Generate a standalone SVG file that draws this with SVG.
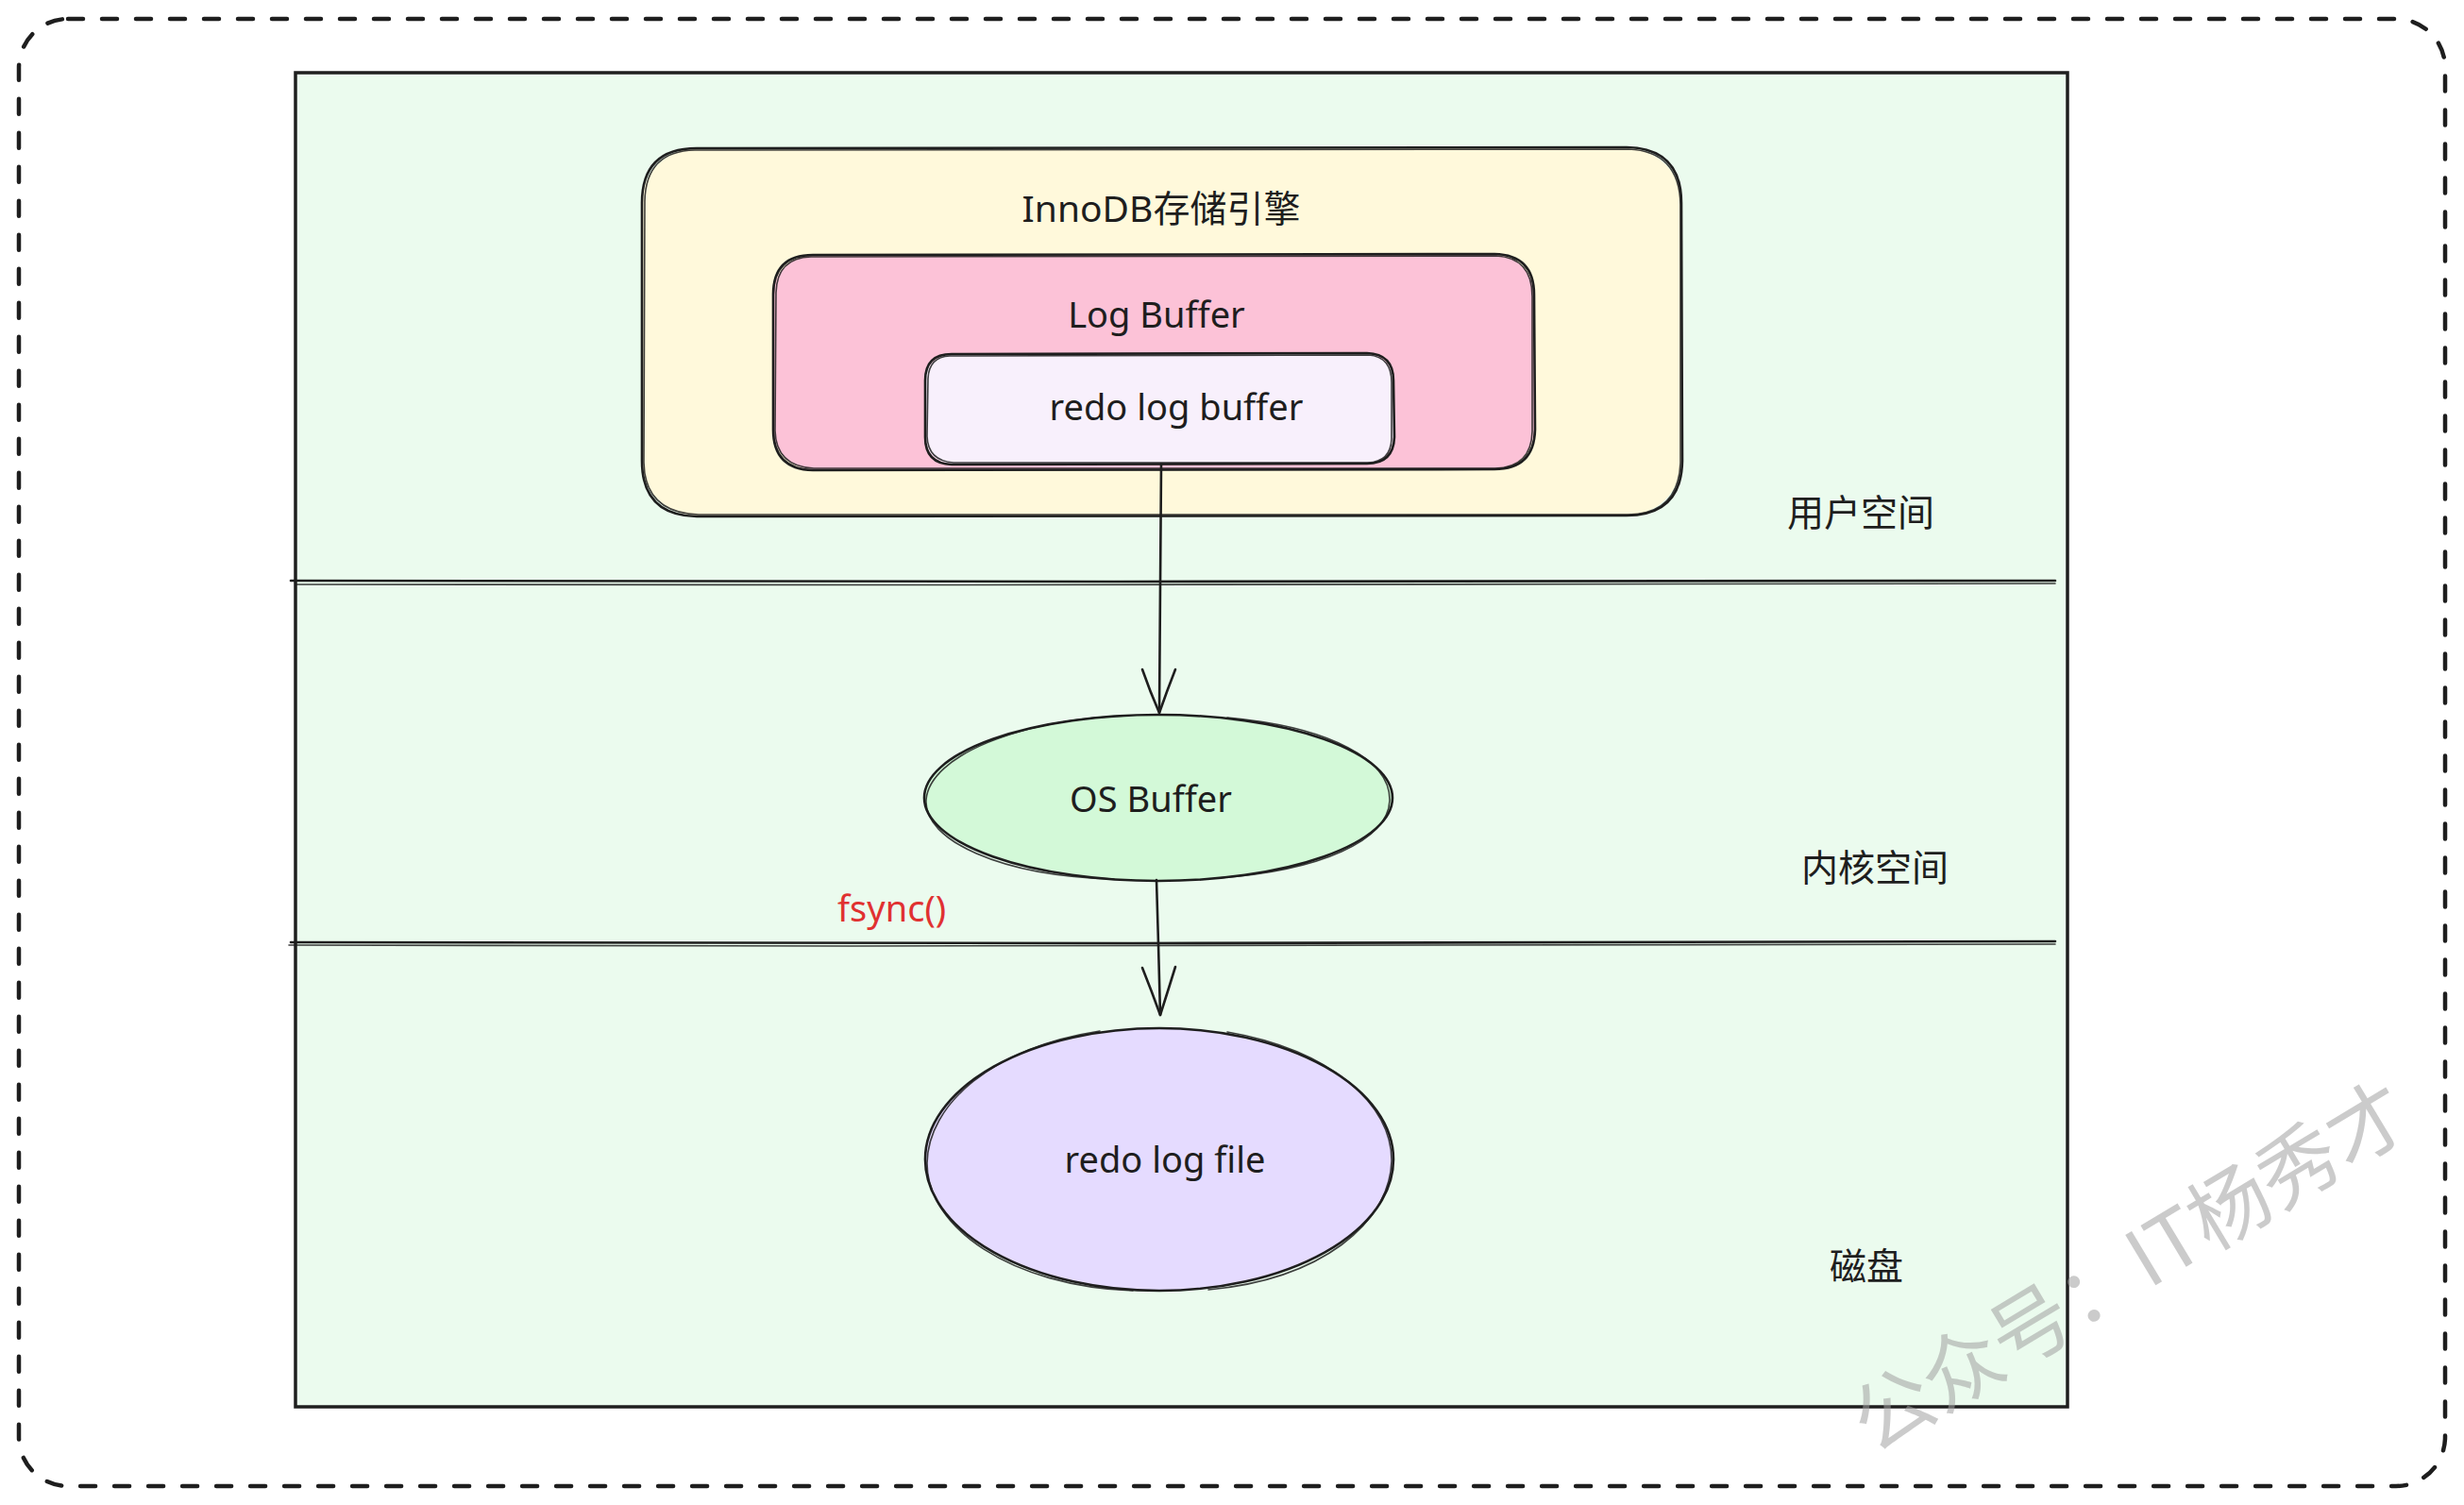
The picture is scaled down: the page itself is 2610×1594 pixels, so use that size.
<svg xmlns="http://www.w3.org/2000/svg" width="2610" height="1594" viewBox="0 0 2610 1594">
<style>
.sk{stroke:#1e1e1e;stroke-width:2.6;fill:none;stroke-linecap:round;stroke-linejoin:round}
.sk2{stroke:#1e1e1e;stroke-width:1.6;fill:none;stroke-linecap:round;opacity:.85}
.t{font-family:"Noto Sans","Noto Sans CJK SC",sans-serif;fill:#1e1e1e;text-anchor:middle}
.cjk{font-family:"Noto Sans CJK SC","Noto Sans",sans-serif;fill:#1e1e1e;font-size:39px}
</style>
<rect width="2610" height="1594" fill="#ffffff"/>
<g id="frame">
<rect x="20" y="20" width="2570" height="1554" rx="52" fill="none" stroke="#1e1e1e" stroke-width="4.5" stroke-dasharray="16 20" stroke-linecap="round"/>
</g>
<g id="background">
<rect x="313" y="77" width="1877" height="1413" fill="#ebfbee" stroke="#1e1e1e" stroke-width="3.5"/>
</g>
<g id="dividers">
<path class="sk" d="M308 615 L1180 616 L2177 615"/>
<path class="sk2" d="M314 619 L1000 619.5 L2177 618"/>
<path class="sk" d="M308 998 L1200 999 L2177 997"/>
<path class="sk2" d="M306 1001 L900 1002 L2177 1000"/>
</g>
<g id="innodb">
<rect x="680" y="157" width="1101" height="389" rx="58" fill="#fff9db"/>
<path class="sk" d="M738 157 L1723 156 Q1781 157 1781 215 L1782 488 Q1781 546 1723 546 L738 547 Q680 546 680 488 L680 215 Q680 157 738 157 Z"/>
<path class="sk2" d="M736 159 L1725 158 Q1779 160 1780 217 L1780 490 Q1778 544 1725 545 L740 545 Q683 543 682 490 L683 213 Q684 160 736 159"/>
<text class="t" x="1230" y="235" font-size="39">InnoDB存储引擎</text>
</g>
<g id="logbuffer">
<rect x="819" y="270" width="806" height="227" rx="42" fill="#fcc2d7"/>
<path class="sk" d="M861 270 L1583 269 Q1625 270 1625 312 L1626 455 Q1625 497 1583 497 L861 498 Q819 497 819 455 L819 312 Q819 270 861 270 Z"/>
<path class="sk2" d="M859 272 L1585 271 Q1623 273 1623 314 L1623 457 Q1622 495 1584 496 L862 496 Q822 494 821 456 L822 310 Q823 273 859 272"/>
<text class="t" x="1225" y="347" font-size="38">Log Buffer</text>
</g>
<g id="redobuffer">
<rect x="980" y="375" width="496" height="116" rx="28" fill="#f8f0fc"/>
<path class="sk" d="M1008 375 L1448 374 Q1476 375 1476 403 L1477 463 Q1476 491 1448 491 L1008 492 Q980 491 980 463 L980 403 Q980 375 1008 375 Z"/>
<path class="sk2" d="M1006 377 L1450 376 Q1474 378 1474 405 L1474 465 Q1473 489 1449 490 L1010 490 Q983 488 982 462 L983 401 Q984 378 1006 377"/>
<text class="t" x="1246" y="445" font-size="38">redo log buffer</text>
</g>
<g id="osbuffer">
<ellipse cx="1227" cy="845" rx="248" ry="88" fill="#d3f9d8"/>
<ellipse class="sk" cx="1227" cy="845" rx="248" ry="88"/>
<path class="sk2" d="M1195 758 C1080 762 985 800 981 847 C978 890 1060 928 1180 931"/>
<path class="sk2" d="M1300 760 C1410 770 1473 805 1472 848 C1470 890 1400 922 1290 930"/>
<text class="t" x="1219" y="860" font-size="38">OS Buffer</text>
</g>
<g id="redofile">
<ellipse cx="1228" cy="1228" rx="248" ry="139" fill="#e5dbff"/>
<ellipse class="sk" cx="1228" cy="1228" rx="248" ry="139"/>
<path class="sk2" d="M1165 1092 C1050 1110 983 1170 982 1232 C982 1300 1070 1362 1200 1367"/>
<path class="sk2" d="M1300 1093 C1410 1112 1475 1170 1474 1230 C1472 1295 1400 1355 1280 1366"/>
<text class="t" x="1234" y="1242" font-size="38">redo log file</text>
</g>
<g id="connectors">
<path class="sk" d="M1230 492 L1229 620 L1228 755"/>
<path class="sk" d="M1210 709 Q1218 732 1228 755 Q1236 732 1245 709"/>
<path class="sk" d="M1225 932 L1227 1000 L1229 1075"/>
<path class="sk" d="M1210 1025 Q1220 1050 1229 1075 Q1237 1050 1245 1024"/>
</g>
<g id="labels">
<text x="887" y="976" font-family="Noto Sans, sans-serif" font-size="38" fill="#e03131">fsync()</text>
<text class="cjk" x="1893" y="557">用户空间</text>
<text class="cjk" x="1908" y="933">内核空间</text>
<text class="cjk" x="1938" y="1355">磁盘</text>
</g>
<g id="watermark">
<text x="2272" y="1368" transform="rotate(-31 2272 1368)" text-anchor="middle" font-family="Noto Sans CJK SC, sans-serif" font-size="85" fill="#a0a0a0" fill-opacity="0.55">公众号：IT杨秀才</text>
</g>
</svg>
